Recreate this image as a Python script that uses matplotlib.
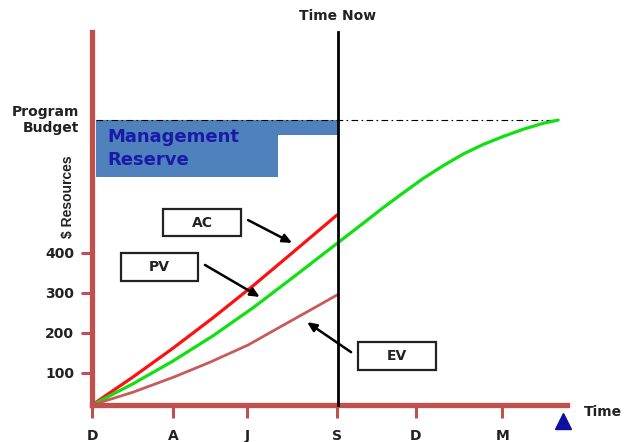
import matplotlib
matplotlib.use("Agg")
import matplotlib.pyplot as plt
from matplotlib.patches import Rectangle

plt.rcParams['font.family'] = ['DejaVu Sans']

# ---- data ----
x_tick_pos = [0, 0.98, 1.87, 2.95, 3.9, 4.94]
x_tick_labels = ['D', 'A', 'J', 'S', 'D', 'M']
y_tick_pos = [100, 200, 300, 400]
y_tick_labels = ['100', '200', '300', '400']

ac_x = [0, 0.494, 0.976, 1.458, 1.94, 2.422, 2.952]
ac_y = [20, 90, 162, 238, 318, 402, 495]

pv_x = [0, 0.494, 0.976, 1.458, 1.94, 2.422, 2.952, 3.265, 3.506, 3.747, 3.988,
        4.229, 4.47, 4.711, 4.952, 5.193, 5.434, 5.614]
pv_y = [20, 73, 130, 193, 263, 339, 424, 474, 513, 550, 586, 618, 647, 671, 691,
        709, 724, 732]

ev_x = [0, 0.494, 0.988, 1.422, 1.88, 2.265, 2.627, 2.952]
ev_y = [20, 52, 90, 127, 170, 215, 257, 295]

time_now = 2.96
budget = 732
mr_start, mr_step, mr_end = 0.05, 2.24, 2.96
mr_low_early, mr_low_late = 590, 695
x_max, y_max = 5.72, 952

fig = plt.figure(figsize=(6.27, 4.42), dpi=100)
ax = fig.add_axes([92/627, 37/442, 475/627, 373/442])
ax.set_xlim(0, x_max)
ax.set_ylim(20, y_max)

axis_col = '#C0504D'
for s in ['top', 'right']:
    ax.spines[s].set_visible(False)
for s in ['left', 'bottom']:
    ax.spines[s].set_color(axis_col)
    ax.spines[s].set_linewidth(3.8)
    ax.spines[s].set_zorder(5)

ax.set_xticks(x_tick_pos)
ax.set_xticklabels(x_tick_labels, fontsize=10, fontweight='bold', color='#222222')
ax.set_yticks(y_tick_pos)
ax.set_yticklabels(y_tick_labels, fontsize=10, fontweight='bold', color='#222222')
ax.tick_params(axis='x', length=9, width=2.2, color=axis_col, pad=8)
ax.tick_params(axis='y', length=8, width=2.2, color=axis_col, pad=5)

# Management reserve
mr_col = '#4F81BD'
ax.fill_between([mr_start, mr_step], mr_low_early, budget, color=mr_col, lw=0)
ax.fill_between([mr_step, mr_end], mr_low_late, budget, color=mr_col, lw=0)
ax.text(0.18, 690, 'Management', color='#1a1aa8', fontsize=13, fontweight='bold',
        ha='left', va='center')
ax.text(0.18, 632, 'Reserve', color='#1a1aa8', fontsize=13, fontweight='bold',
        ha='left', va='center')

# budget line
ax.plot([mr_start, pv_x[-1]], [budget, budget], color='black', lw=0.8,
        dashes=(6, 3, 1.5, 3), zorder=3)

# curves
ax.plot(ac_x, ac_y, color='#FF1010', lw=2.3, zorder=4, solid_capstyle='round',
        solid_joinstyle='round')
ax.plot(pv_x, pv_y, color='#10E010', lw=2.3, zorder=4, solid_capstyle='round',
        solid_joinstyle='round')
ax.plot(ev_x, ev_y, color='#C85A5A', lw=2.0, zorder=4, solid_capstyle='round',
        solid_joinstyle='round')

# time now
ax.plot([time_now, time_now], [20, y_max], color='black', lw=2.0, zorder=6, clip_on=False)
ax.text(time_now, 992, 'Time Now', fontsize=10, fontweight='bold', ha='center',
        va='center', clip_on=False, color='#222222')

# labels
ax.text(-0.16, budget, 'Program\nBudget', fontsize=10, fontweight='bold', ha='right',
        va='center', multialignment='right', linespacing=1.1, clip_on=False,
        color='#222222')
ax.text(-0.29, 540, '$ Resources', fontsize=10, fontweight='bold', rotation=90,
        ha='center', va='center', clip_on=False, color='#222222',
        family='Liberation Sans')
ax.text(5.92, 2.5, 'Time', fontsize=10, fontweight='bold', ha='left', va='center',
        clip_on=False, color='#222222')
ax.plot([5.67], [-20], marker='^', markersize=11, color='#1010A0', clip_on=False,
        zorder=7)

# label boxes
boxes = [('AC', 0.86, 442, 0.94, 68), ('PV', 0.35, 330, 0.93, 70),
         ('EV', 3.20, 107, 0.94, 70)]
for lab, bx, by, bw, bh in boxes:
    ax.add_patch(Rectangle((bx, by), bw, bh, facecolor='white', edgecolor='#222222',
                           lw=1.6, zorder=6))
    ax.text(bx + bw / 2, by + bh / 2, lab, fontsize=10, fontweight='bold',
            ha='center', va='center', zorder=7, color='#222222')

arrows = [((1.88, 482), (2.41, 425)), ((1.36, 370), (2.02, 290)),
          ((3.12, 152), (2.59, 227))]
for (x0, y0), (x1, y1) in arrows:
    ax.annotate('', xy=(x1, y1), xytext=(x0, y0),
                arrowprops=dict(arrowstyle='-|>,head_length=0.55,head_width=0.25',
                                color='black', lw=1.8, shrinkA=0, shrinkB=0),
                zorder=8)

fig.savefig('out.png', dpi=100)
